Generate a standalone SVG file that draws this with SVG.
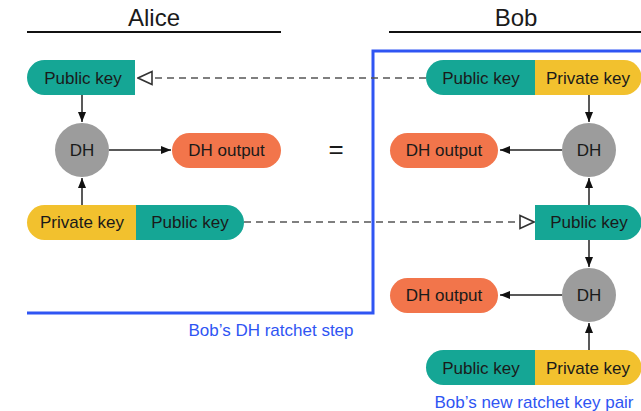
<svg xmlns="http://www.w3.org/2000/svg" width="641" height="411" viewBox="0 0 641 411">
<defs>
<style>
text{font-family:"Liberation Sans",Arial,sans-serif;fill:#1a1a1a;text-anchor:middle}
.lbl{font-size:17px}
.title{font-size:24px}
.blue{fill:#2F55F3;font-size:17px}
.teal{fill:#15A695}
.yel{fill:#F2C12E}
.org{fill:#F2754B}
.dh{fill:#9C9C9C}
.ln{stroke:#222;stroke-width:1.5;fill:none}
.dash{stroke:#555;stroke-width:1.6;fill:none;stroke-dasharray:7 5}
</style>
<marker id="ah" viewBox="0 0 10 10" refX="10" refY="5" markerWidth="10" markerHeight="10" markerUnits="userSpaceOnUse" orient="auto">
<path d="M0,1 L10,5 L0,9 Z" fill="#111"/>
</marker>
<marker id="oh" viewBox="0 0 16 16" refX="15" refY="8" markerWidth="16" markerHeight="16" markerUnits="userSpaceOnUse" orient="auto">
<path d="M1,1.5 L15,8 L1,14.5 Z" fill="#fff" stroke="#333" stroke-width="1.6"/>
</marker>
</defs>

<g id="titles">
<text class="title" x="154" y="26">Alice</text>
<line x1="27" y1="32" x2="281" y2="32" stroke="#111" stroke-width="2"/>
<text class="title" x="516" y="26">Bob</text>
<line x1="389" y1="32" x2="641" y2="32" stroke="#111" stroke-width="2"/>
</g>

<g id="ratchet-box">
<path d="M27,313 H373 V51 H641" fill="none" stroke="#2F55F3" stroke-width="3"/>
<text class="blue" x="271" y="336">Bob’s DH ratchet step</text>
</g>

<g id="connectors">
<line class="ln" x1="82" y1="95" x2="82" y2="122" marker-end="url(#ah)"/>
<line class="ln" x1="82" y1="205" x2="82" y2="178" marker-end="url(#ah)"/>
<line class="ln" x1="109" y1="150" x2="171" y2="150" marker-end="url(#ah)"/>
<line class="dash" x1="426" y1="78" x2="138" y2="78" marker-end="url(#oh)"/>
<line class="dash" x1="244" y1="222" x2="534" y2="222" marker-end="url(#oh)"/>
<line class="ln" x1="589" y1="95" x2="589" y2="122" marker-end="url(#ah)"/>
<line class="ln" x1="562" y1="150" x2="500" y2="150" marker-end="url(#ah)"/>
<line class="ln" x1="589" y1="205" x2="589" y2="178" marker-end="url(#ah)"/>
<line class="ln" x1="589" y1="240" x2="589" y2="267" marker-end="url(#ah)"/>
<line class="ln" x1="562" y1="295" x2="500" y2="295" marker-end="url(#ah)"/>
<line class="ln" x1="589" y1="350" x2="589" y2="323" marker-end="url(#ah)"/>
</g>

<g id="alice-public-key">
<path class="teal" d="M44.5,60 H135 V95 H44.5 A17.5,17.5 0 0 1 44.5,60 Z"/>
<text class="lbl" x="83" y="84">Public key</text>
</g>

<g id="alice-dh">
<circle class="dh" cx="82" cy="150" r="27"/>
<text class="lbl" x="82" y="156">DH</text>
</g>

<g id="alice-dh-output">
<rect class="org" x="172" y="133" width="109" height="35" rx="17.5"/>
<text class="lbl" x="226.5" y="156">DH output</text>
</g>

<g id="alice-keypair">
<path class="yel" d="M44.5,205 H136 V240 H44.5 A17.5,17.5 0 0 1 44.5,205 Z"/>
<path class="teal" d="M136,205 H226.5 A17.5,17.5 0 0 1 226.5,240 H136 Z"/>
<text class="lbl" x="82" y="228">Private key</text>
<text class="lbl" x="190" y="228">Public key</text>
</g>

<g id="equals">
<text x="336" y="158" style="font-size:26px">=</text>
</g>

<g id="bob-keypair-old">
<path class="teal" d="M443.5,60 H535 V95 H443.5 A17.5,17.5 0 0 1 443.5,60 Z"/>
<path class="yel" d="M535,60 H624 A17.5,17.5 0 0 1 624,95 H535 Z"/>
<text class="lbl" x="481" y="84">Public key</text>
<text class="lbl" x="588" y="84">Private key</text>
</g>

<g id="bob-dh-1">
<circle class="dh" cx="589" cy="150" r="27"/>
<text class="lbl" x="589" y="156">DH</text>
</g>

<g id="bob-dh-output-1">
<rect class="org" x="390" y="133" width="108" height="35" rx="17.5"/>
<text class="lbl" x="444" y="156">DH output</text>
</g>

<g id="bob-alice-public-key">
<path class="teal" d="M535,205 H624 A17.5,17.5 0 0 1 624,240 H535 Z"/>
<text class="lbl" x="589" y="228">Public key</text>
</g>

<g id="bob-dh-2">
<circle class="dh" cx="589" cy="295" r="27"/>
<text class="lbl" x="589" y="301">DH</text>
</g>

<g id="bob-dh-output-2">
<rect class="org" x="390" y="278" width="108" height="35" rx="17.5"/>
<text class="lbl" x="444" y="301">DH output</text>
</g>

<g id="bob-keypair-new">
<path class="teal" d="M443.5,350 H535 V385 H443.5 A17.5,17.5 0 0 1 443.5,350 Z"/>
<path class="yel" d="M535,350 H624 A17.5,17.5 0 0 1 624,385 H535 Z"/>
<text class="lbl" x="481" y="374">Public key</text>
<text class="lbl" x="588" y="374">Private key</text>
<text class="blue" x="534" y="408">Bob’s new ratchet key pair</text>
</g>
</svg>
